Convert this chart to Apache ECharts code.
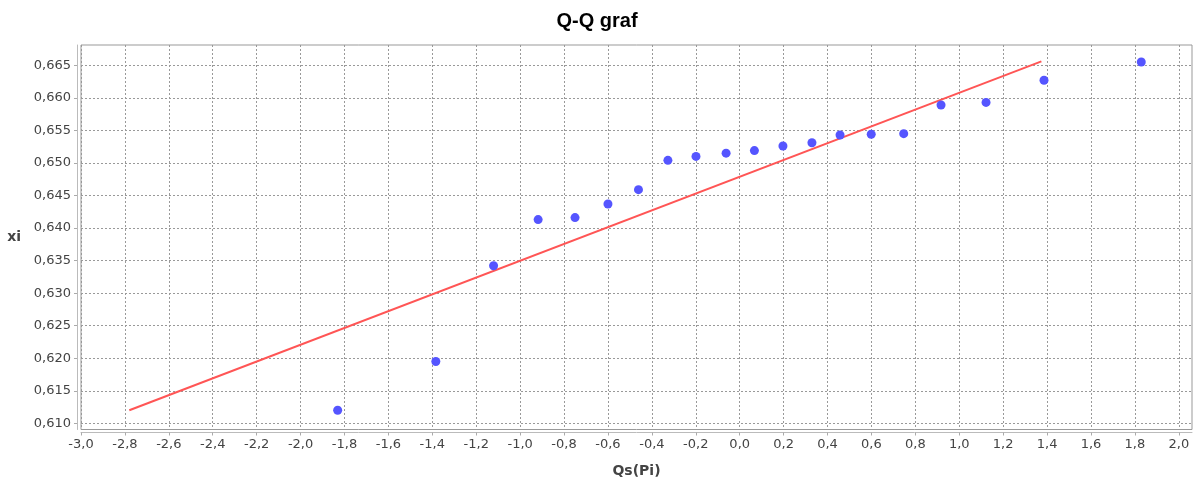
<!DOCTYPE html>
<html>
<head>
<meta charset="utf-8">
<script src="https://cdn.jsdelivr.net/npm/echarts@6/dist/echarts.min.js"></script>
<style>
    html, body { margin: 0; padding: 0; background: #fff; }
    #qqChart { width: 1194px; height: 484px; }
</style>
</head>
<body>
<div id="qqChart"></div>
<script>
// teoretske kvantile (os x) i uzorak xi (os y)
var qsValues = [-1.831, -1.384, -1.121, -0.918, -0.750, -0.600, -0.461, -0.327, -0.199, -0.062,
    0.067, 0.197, 0.329, 0.457, 0.599, 0.747, 0.917, 1.122, 1.386, 1.829];
var xiValues = [0.6120, 0.6195, 0.6342, 0.6413, 0.6416, 0.6437, 0.6459, 0.6504, 0.6510, 0.6515,
    0.6519, 0.6526, 0.6531, 0.6543, 0.6544, 0.6545, 0.6589, 0.6593, 0.6627, 0.6655];

// pravac
var lineQs = [-2.780, 1.374];
var lineXi = [0.6120, 0.6656];

// oznake na osima
var xTicks = [-3.0, -2.8, -2.6, -2.4, -2.2, -2.0, -1.8, -1.6, -1.4, -1.2, -1.0, -0.8, -0.6, -0.4, -0.2,
    0.0, 0.2, 0.4, 0.6, 0.8, 1.0, 1.2, 1.4, 1.6, 1.8, 2.0];
var yTicks = [0.610, 0.615, 0.620, 0.625, 0.630, 0.635, 0.640, 0.645, 0.650, 0.655, 0.660, 0.665];

var points = qsValues.map(function (q, i) { return [q, xiValues[i]]; });
var linePoints = lineQs.map(function (q, i) { return [q, lineXi[i]]; });

var myChart = echarts.init(document.getElementById('qqChart'));

var labelFont = {
    color: '#444',
    fontFamily: 'DejaVu Sans',
    fontSize: 13
};

option = {
    animation: false,
    backgroundColor: '#fff',
    title: {
        text: 'Q-Q graf',
        left: 'center',
        top: 6,
        textStyle: {
            fontFamily: 'Liberation Sans',
            fontWeight: 'bold',
            fontSize: 20,
            color: '#000'
        }
    },
    grid: {
        left: 81,
        right: 2,
        top: 45,
        bottom: 54.5,
        show: true,
        borderColor: '#999',
        borderWidth: 1,
        backgroundColor: '#fff'
    },
    xAxis: {
        type: 'value',
        min: -3.0,
        max: 2.060,
        offset: 3,
        name: 'Qs(Pi)',
        nameLocation: 'middle',
        nameGap: 32,
        nameTextStyle: {
            color: '#444',
            fontFamily: 'DejaVu Sans',
            fontWeight: 'bold',
            fontSize: 14
        },
        axisLine: { show: true, onZero: false, lineStyle: { color: '#bbb' } },
        axisTick: { show: true, length: 3, customValues: xTicks, lineStyle: { color: '#aaa' } },
        axisLabel: {
            customValues: xTicks,
            margin: 6,
            color: labelFont.color,
            fontFamily: labelFont.fontFamily,
            fontSize: labelFont.fontSize,
            formatter: function (v) { return v.toFixed(1).replace('.', ','); }
        },
        splitLine: { show: true, lineStyle: { color: '#999', type: [2, 2], width: 1 } }
    },
    yAxis: {
        type: 'value',
        min: 0.60905,
        max: 0.66812,
        offset: 4,
        name: 'xi',
        nameLocation: 'middle',
        nameRotate: 0,
        nameGap: 56,
        nameTextStyle: {
            color: '#444',
            fontFamily: 'DejaVu Sans',
            fontWeight: 'bold',
            fontSize: 14
        },
        axisLine: { show: true, onZero: false, lineStyle: { color: '#bbb' } },
        axisTick: { show: true, length: 3, customValues: yTicks, lineStyle: { color: '#aaa' } },
        axisLabel: {
            customValues: yTicks,
            margin: 6,
            color: labelFont.color,
            fontFamily: labelFont.fontFamily,
            fontSize: labelFont.fontSize,
            formatter: function (v) { return v.toFixed(3).replace('.', ','); }
        },
        splitLine: { show: true, lineStyle: { color: '#999', type: [2, 2], width: 1 } }
    },
    series: [
        {
            name: 'pravac',
            type: 'line',
            data: linePoints,
            symbol: 'none',
            clip: false,
            lineStyle: { color: '#ff5555', width: 2 },
            z: 3
        },
        {
            name: 'xi',
            type: 'scatter',
            data: points,
            symbolSize: 9,
            clip: false,
            itemStyle: { color: '#5555ff', opacity: 1 },
            z: 4
        }
    ]
};

myChart.setOption(option);
</script>
</body>
</html>
